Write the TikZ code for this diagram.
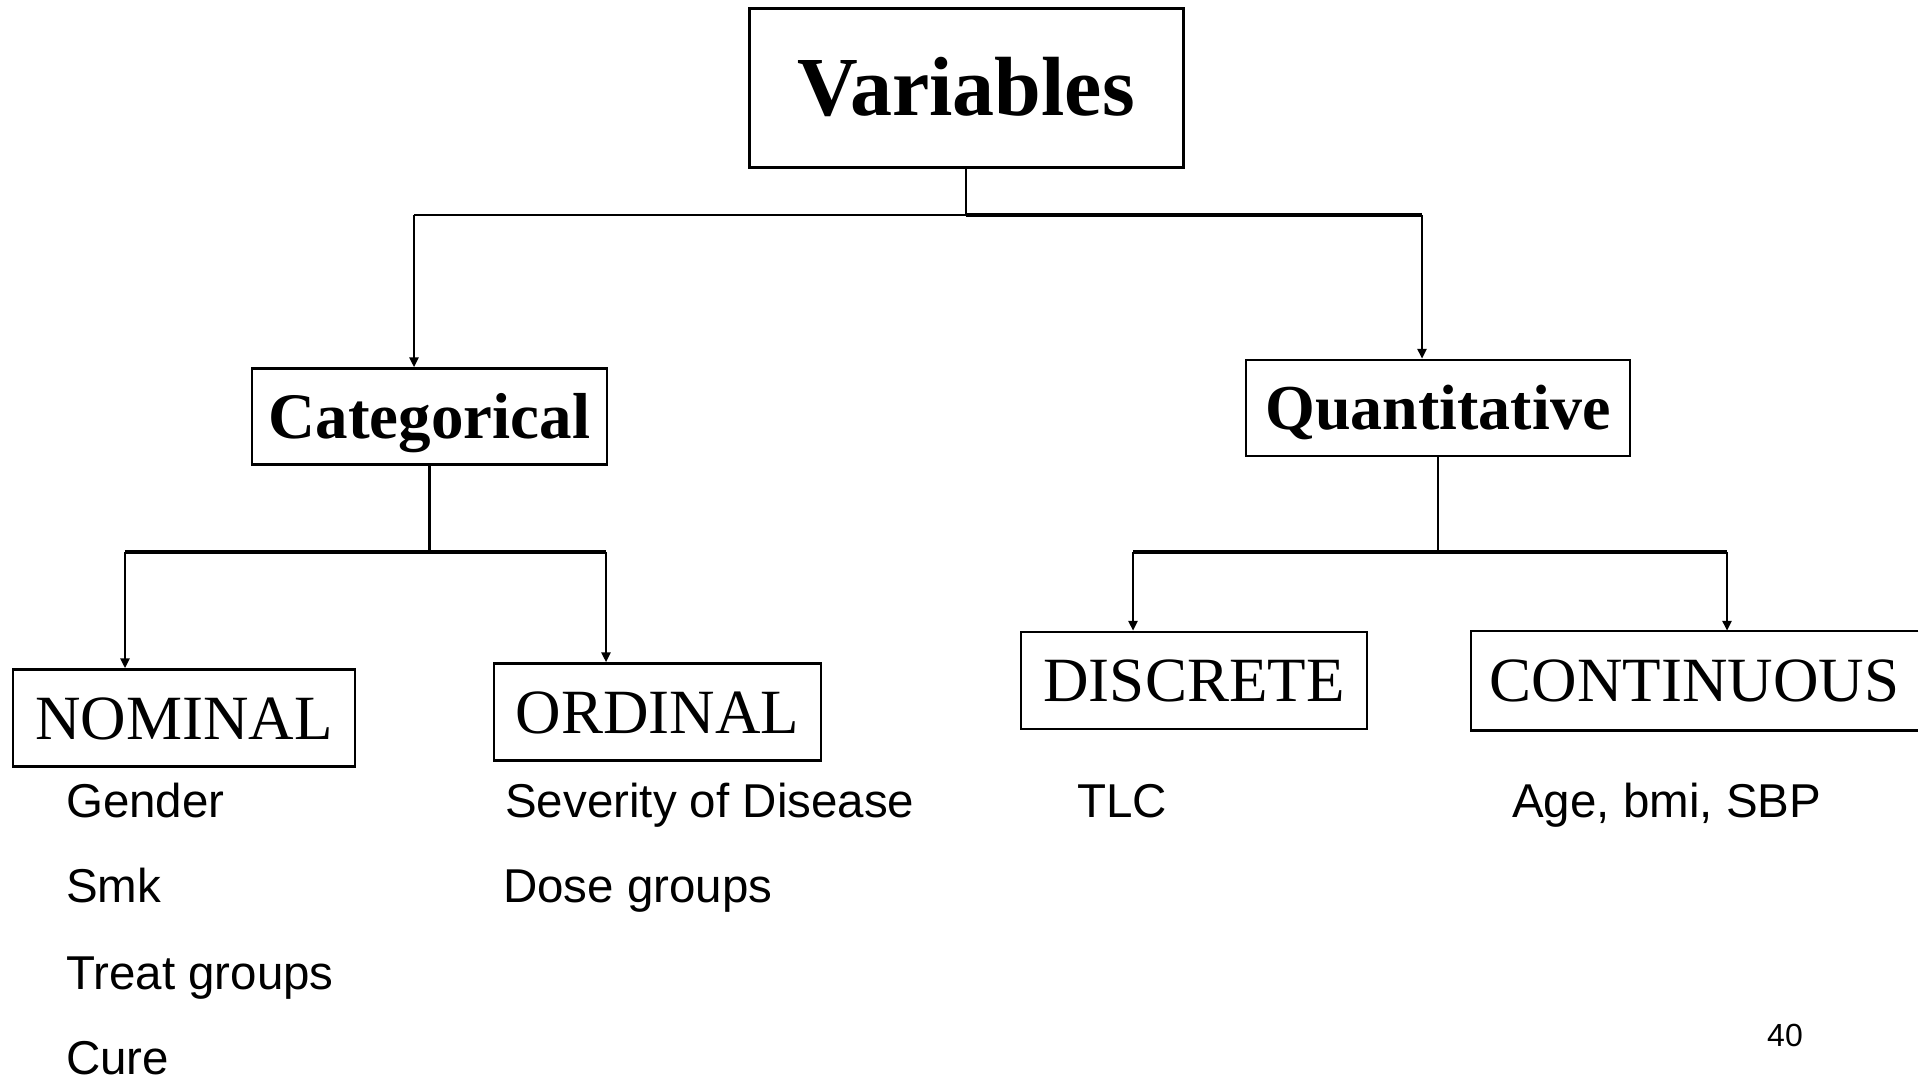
\documentclass[tikz,border=0pt]{standalone}
\usepackage{fontspec}
\setmainfont{Liberation Serif}
\newfontfamily\arialf{Liberation Sans}
\usetikzlibrary{arrows.meta}
\tikzset{
  box/.style={draw, line width=2.5pt, inner sep=0pt, align=center},
  bigbox/.style={box, line width=3pt, minimum width=434pt, minimum height=159pt,
    font=\fontsize{84}{90}\selectfont\bfseries, text height=56pt, text depth=0pt},
  midbox/.style={box, minimum height=96pt, text depth=0pt},
  lowbox/.style={box, minimum height=97pt, font=\fontsize{63}{70}\selectfont,
    text height=42pt, text depth=0pt},
  vline/.style={line width=2.6pt},
  busline/.style={line width=3.5pt},
  arr/.style={line width=2.6pt, -{Triangle[length=10pt,width=9pt]}},
  item/.style={anchor=base west, inner sep=0pt, font=\arialf\fontsize{47.5}{50}\selectfont},
}
\begin{document}
\begin{tikzpicture}[x=1pt, y=-1pt]
\useasboundingbox (0,0) rectangle (1927,1079);

% boxes
\node[bigbox] (var) at (966,87.5) {Variables};
\node[midbox, minimum width=355pt, font=\fontsize{65}{72}\selectfont\bfseries, text height=43pt]
  (cat) at (429.5,416.5) {Categorical};
\node[midbox, minimum width=384pt, font=\fontsize{64}{70}\selectfont\bfseries, text height=42pt]
  (qua) at (1438,408) {Quantitative};
\node[lowbox, minimum width=342pt] (nom) at (184,718) {NOMINAL};
\node[lowbox, minimum width=327pt] (ord) at (657.5,712) {ORDINAL};
\node[lowbox, minimum width=346pt] (dis) at (1194,680.5) {DISCRETE};
\node[lowbox, draw=none, minimum width=445pt] (con) at (1694.5,680.5) {CONTINUOUS};
\draw[line width=2.5pt] (con.north east) -- (con.north west) -- (con.south west) -- (con.south east);

% level 1 connectors
\coordinate (b1L) at (414,215);
\coordinate (b1R) at (1422,215);
\coordinate (b1M) at (var.south |- b1L);
\draw[vline] (var.south) -- (b1M);
\draw[vline] (b1L) -- (b1M);
\draw[busline] (b1M) -- (b1R);
\draw[arr] (b1L) -- (b1L |- cat.north);
\draw[arr] (b1R) -- (b1R |- qua.north);

% level 2 left
\coordinate (b2L) at (125,552);
\coordinate (b2R) at (606,552);
\draw[vline] (cat.south) -- (cat.south |- b2L);
\draw[busline] (b2L) -- (b2R);
\draw[arr] (b2L) -- (b2L |- nom.north);
\draw[arr] (b2R) -- (b2R |- ord.north);

% level 2 right
\coordinate (b3L) at (1133,552);
\coordinate (b3R) at (1727,552);
\draw[vline] (qua.south) -- (qua.south |- b3L);
\draw[busline] (b3L) -- (b3R);
\draw[arr] (b3L) -- (b3L |- dis.north);
\draw[arr] (b3R) -- (b3R |- con.north);

% examples
\node[item] (g1) at (66,817) {Gender};
\node[item] (g2) at (66,902) {Smk};
\node[item] (g3) at (66,989) {Treat groups};
\node[item] (g4) at (66,1074) {Cure};
\node[item] (o1) at (505,817) {Severity of Disease};
\node[item] (o2) at (503,902) {Dose groups};
\node[item] (d1) at (1077,817) {TLC};
\node[item] (c1) at (1512,817) {Age, bmi, SBP};
\node[anchor=base west, inner sep=0pt, font=\arialf\fontsize{32}{34}\selectfont] (pg) at (1767,1046) {40};
\end{tikzpicture}
\end{document}
